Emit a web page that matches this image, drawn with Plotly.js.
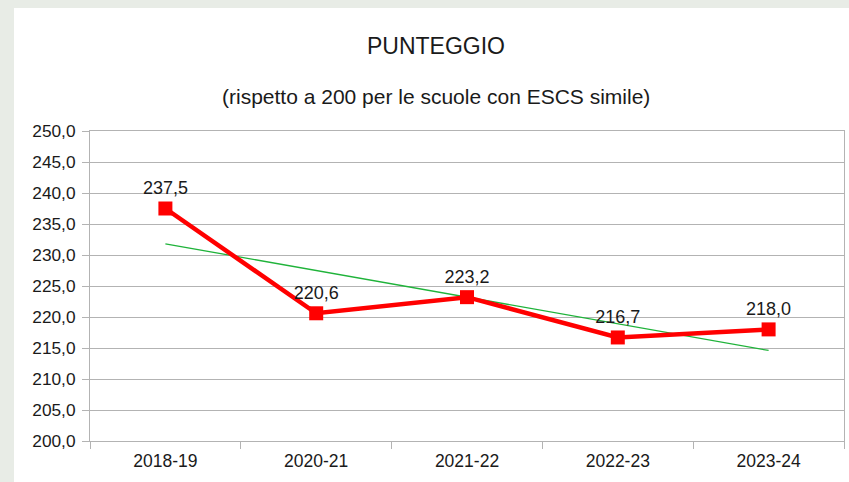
<!DOCTYPE html>
<html>
<head>
<meta charset="utf-8">
<script src="https://cdn.plot.ly/plotly-3.0.1.min.js"></script>
<style>
html,body{margin:0;padding:0;width:849px;height:482px;overflow:hidden;background:#e8ece6;}
#panel{position:absolute;left:14px;top:8px;width:835px;height:474px;background:#fff;}
#chart{width:835px;height:474px;}
</style>
</head>
<body>
<div id="panel"><div id="chart"></div></div>
<script>
const categories = ["2018-19", "2020-21", "2021-22", "2022-23", "2023-24"];
const scores = [237.5, 220.6, 223.2, 216.7, 218.0];
const trendCategories = ["2018-19", "2023-24"];
const trendValues = [231.8, 214.6];
const yTickVals = [200, 205, 210, 215, 220, 225, 230, 235, 240, 245, 250];

const fontFam = "Liberation Sans, Arial, sans-serif";
const labels = scores.map(v => v.toFixed(1).replace('.', ','));

const traces = [
  {
    x: trendCategories, y: trendValues, type: 'scatter', mode: 'lines',
    line: {color: '#1fb33a', width: 1.3}, hoverinfo: 'skip', showlegend: false
  },
  {
    x: categories, y: scores, type: 'scatter', mode: 'lines+markers+text',
    line: {color: '#ff0000', width: 4.5},
    marker: {color: '#ff0000', symbol: 'square', size: 14},
    text: labels, textposition: 'top center',
    textfont: {family: fontFam, size: 18, color: '#1a1a1a'},
    showlegend: false
  }
];

const layout = {
  width: 835, height: 474,
  margin: {l: 76, r: 5, t: 123, b: 41},
  paper_bgcolor: '#ffffff', plot_bgcolor: '#ffffff',
  font: {family: fontFam, color: '#1a1a1a'},
  separators: ',.',
  xaxis: {
    type: 'category', categoryorder: 'array', categoryarray: categories,
    tickson: 'boundaries', ticks: 'outside', ticklen: 7, tickcolor: '#b3b3b3',
    ticklabelstandoff: 4,
    showgrid: false, showline: true, linecolor: '#b3b3b3', linewidth: 1, mirror: true,
    tickfont: {family: fontFam, size: 17.5, color: '#1a1a1a'},
    range: [-0.5, 4.5], fixedrange: true
  },
  yaxis: {
    range: [200, 250], tickvals: yTickVals,
    ticktext: yTickVals.map(v => v.toFixed(1).replace('.', ',')),
    ticks: 'outside', ticklen: 7, tickcolor: '#b3b3b3', ticklabelstandoff: 3,
    showgrid: true, gridcolor: '#b3b3b3', gridwidth: 1,
    showline: true, linecolor: '#b3b3b3', linewidth: 1, mirror: true,
    zeroline: false,
    tickfont: {family: fontFam, size: 17.3, color: '#1a1a1a'}
  },
  annotations: [
    {text: 'PUNTEGGIO', xref: 'paper', yref: 'paper', x: 0.459, y: 1 + (123 - 38) / 310,
     xanchor: 'center', yanchor: 'middle', showarrow: false,
     font: {family: fontFam, size: 23, color: '#1a1a1a'}},
    {text: '(rispetto a 200 per le scuole con ESCS simile)', xref: 'paper', yref: 'paper',
     x: 0.459, y: 1 + (123 - 88) / 310, xanchor: 'center', yanchor: 'middle', showarrow: false,
     font: {family: fontFam, size: 21, color: '#1a1a1a'}}
  ]
};

Plotly.newPlot('chart', traces, layout, {displayModeBar: false, staticPlot: true});
</script>
</body>
</html>
